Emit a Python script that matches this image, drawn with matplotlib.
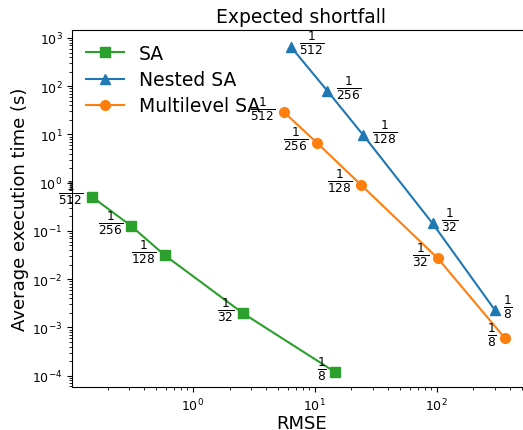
import numpy as np
import matplotlib
matplotlib.use("Agg")
import matplotlib.pyplot as plt

# step sizes labelled next to each point
labels = ["512", "256", "128", "32", "8"]

# SA
sa_rmse = [0.148, 0.312, 0.585, 2.59, 14.6]
sa_time = [0.513, 0.126, 0.0316, 0.00195, 0.00012]

# Nested SA
nsa_rmse = [6.35, 12.7, 25.1, 92.7, 301]
nsa_time = [663, 80, 9.6, 0.144, 0.0023]

# Multilevel SA
mlsa_rmse = [5.56, 10.4, 23.9, 102.6, 366]
mlsa_time = [29.3, 6.76, 0.91, 0.027, 0.00059]

fig = plt.figure(figsize=(5.23, 4.31), dpi=100)
ax = fig.add_axes([0.138, 0.1005, 0.876, 0.8276])  # right edge runs past the figure like the original crop

ax.plot(sa_rmse, sa_time, marker="s", color="tab:green", lw=1.5, ms=7, label="SA")
ax.plot(nsa_rmse, nsa_time, marker="^", color="tab:blue", lw=1.5, ms=7, label="Nested SA")
ax.plot(mlsa_rmse, mlsa_time, marker="o", color="tab:orange", lw=1.5, ms=7, label="Multilevel SA")

ax.set_xscale("log")
ax.set_yscale("log")
ax.set_xlim(0.102, 10**2.77)
ax.set_ylim(10**-4.228, 10**3.166)

# fraction labels
fs = 12.5
for x, y, lab in zip(sa_rmse, sa_time, labels):
    ax.annotate(r"$\frac{1}{%s}$" % lab, (x, y), textcoords="offset points",
                xytext=(-6, 3), ha="right", va="center", fontsize=fs)
for x, y, lab in zip(mlsa_rmse, mlsa_time, labels):
    ax.annotate(r"$\frac{1}{%s}$" % lab, (x, y), textcoords="offset points",
                xytext=(-6, 3), ha="right", va="center", fontsize=fs)
for x, y, lab in zip(nsa_rmse, nsa_time, labels):
    ax.annotate(r"$\frac{1}{%s}$" % lab, (x, y), textcoords="offset points",
                xytext=(6, 3), ha="left", va="center", fontsize=fs)

ax.set_title("Expected shortfall", fontsize=13.5)
ax.set_xlabel("RMSE", fontsize=13, labelpad=1)
ax.set_ylabel("Average execution time (s)", fontsize=13, labelpad=2)
ax.tick_params(labelsize=9)
ax.legend(loc="upper left", frameon=False, fontsize=13.5,
          labelspacing=0.38, borderaxespad=0.35)

fig.savefig("out.png", dpi=100)
